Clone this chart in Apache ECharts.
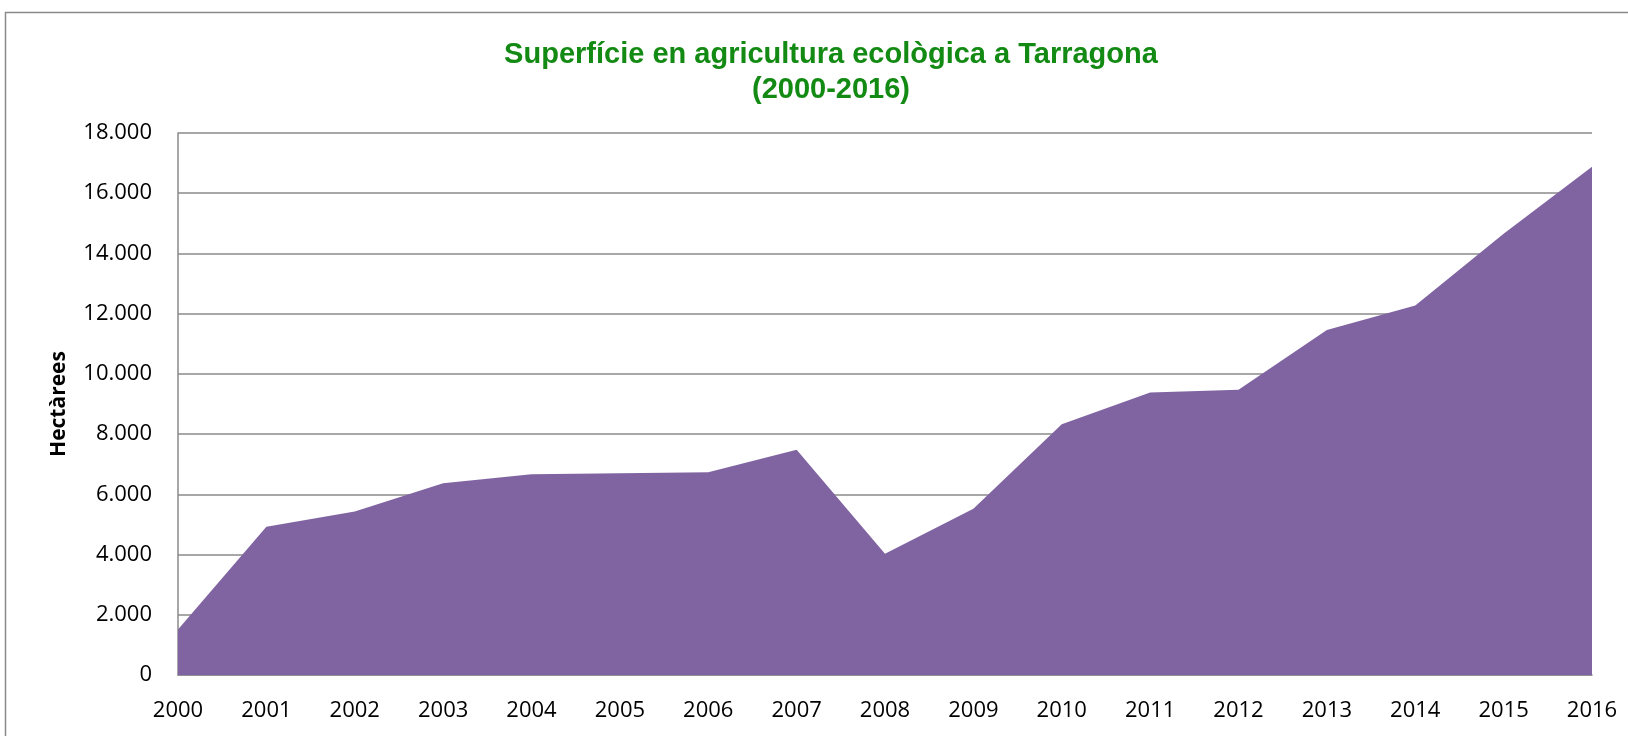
<!DOCTYPE html>
<html>
	<head>
		<meta charset="utf-8">
		<title>Superfície en agricultura ecològica a Tarragona</title>
		<script src="https://cdn.jsdelivr.net/npm/echarts@6/dist/echarts.min.js"></script>
	</head>
	<body style="margin:0;padding:0;background:#fff">
		<div id="chart" style="width:1628px;height:736px"></div>
	</body>
	<script type="text/javascript">
		var years = ["2000", "2001", "2002", "2003", "2004", "2005", "2006", "2007", "2008",
			"2009", "2010", "2011", "2012", "2013", "2014", "2015", "2016"];
		var hectares = [1510, 4920, 5430, 6370, 6670, 6700, 6730, 7480, 4030,
			5520, 8330, 9380, 9470, 11460, 12270, 14650, 16880];

		var labelFont = "'Open Sans', 'Noto Sans', sans-serif";

		function fmt(v) {
			return String(v).replace(/\B(?=(\d{3})+(?!\d))/g, ".");
		}

		var myChart = echarts.init(document.getElementById('chart'));
		var option = {
			backgroundColor: "#fff",
			animation: false,
			title: {
				text: "Superfície en agricultura ecològica a Tarragona\n(2000-2016)",
				left: 826,
				top: 32,
				textAlign: "center",
				textStyle: {
					color: "#138a13",
					fontFamily: "'Liberation Sans', Arial, sans-serif",
					fontWeight: "bold",
					fontSize: 29,
					lineHeight: 35
				}
			},
			graphic: [{
				type: "rect",
				shape: { x: 5.5, y: 12.5, width: 1700, height: 800 },
				style: { fill: "none", stroke: "#8a8a8a", lineWidth: 1.5 },
				silent: true
			}],
			grid: {
				left: 178,
				top: 133,
				right: 36,
				bottom: 61
			},
			xAxis: {
				type: "category",
				data: years,
				boundaryGap: false,
				axisLine: { lineStyle: { color: "#8a8a8a", width: 1.5 } },
				axisTick: { show: false },
				axisLabel: {
					color: "#000",
					fontFamily: labelFont,
					fontSize: 22,
					margin: 25
				}
			},
			yAxis: {
				type: "value",
				min: 0,
				max: 18000,
				interval: 2000,
				name: "Hectàrees",
				nameLocation: "middle",
				nameGap: 108,
				nameTextStyle: {
					color: "#000",
					fontFamily: labelFont,
					fontWeight: "bold",
					fontSize: 21
				},
				axisLine: { show: true, lineStyle: { color: "#8a8a8a", width: 1.5 } },
				axisTick: { show: false },
				splitLine: { lineStyle: { color: "#8a8a8a", width: 1.5 } },
				axisLabel: {
					color: "#000",
					fontFamily: labelFont,
					fontSize: 22,
					margin: 26,
					formatter: fmt
				}
			},
			series: [{
				type: "line",
				data: hectares,
				symbol: "none",
				lineStyle: { width: 0 },
				areaStyle: { color: "#8064a2", opacity: 1 }
			}]
		};
		myChart.setOption(option);
	</script>
</html>
